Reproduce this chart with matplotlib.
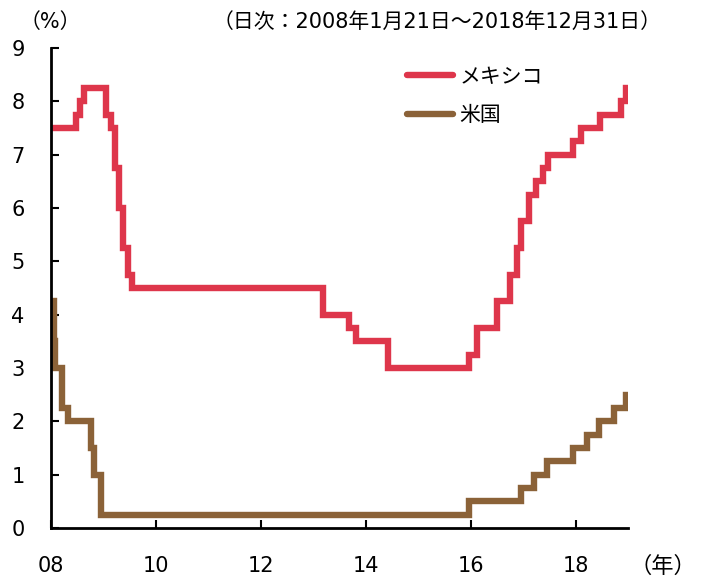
import matplotlib
matplotlib.use("Agg")
import matplotlib.pyplot as plt
import pandas as pd

plt.rcParams['font.family'] = ['DejaVu Sans', 'Noto Sans CJK JP']

# メキシコ政策金利
mx_dates = ["2008-01-21", "2008-06-20", "2008-07-18", "2008-08-15", "2009-01-16",
            "2009-02-20", "2009-03-20", "2009-04-17", "2009-05-15", "2009-06-19",
            "2009-07-17", "2013-03-08", "2013-09-06", "2013-10-25", "2014-06-06",
            "2015-12-17", "2016-02-17", "2016-06-30", "2016-09-29", "2016-11-17",
            "2016-12-15", "2017-02-09", "2017-03-30", "2017-05-18", "2017-06-22",
            "2017-12-14", "2018-02-08", "2018-06-21", "2018-11-15", "2018-12-20",
            "2018-12-31"]
mx_rates = [7.50, 7.75, 8.00, 8.25, 7.75,
            7.50, 6.75, 6.00, 5.25, 4.75,
            4.50, 4.00, 3.75, 3.50, 3.00,
            3.25, 3.75, 4.25, 4.75, 5.25,
            5.75, 6.25, 6.50, 6.75, 7.00,
            7.25, 7.50, 7.75, 8.00, 8.25,
            8.25]

# 米国 FF金利誘導目標（上限）
us_dates = ["2008-01-21", "2008-01-22", "2008-01-30", "2008-03-18", "2008-04-30",
            "2008-10-08", "2008-10-29", "2008-12-16", "2015-12-17", "2016-12-15",
            "2017-03-16", "2017-06-15", "2017-12-14", "2018-03-22", "2018-06-14",
            "2018-09-27", "2018-12-20", "2018-12-31"]
us_rates = [4.25, 3.50, 3.00, 2.25, 2.00,
            1.50, 1.00, 0.25, 0.50, 0.75,
            1.00, 1.25, 1.50, 1.75, 2.00,
            2.25, 2.50, 2.50]

year_ticks = [2008, 2010, 2012, 2014, 2016, 2018]
year_labels = ["08", "10", "12", "14", "16", "18"]

red = "#DE364B"
brown = "#8B6238"

fig = plt.figure(figsize=(7.02, 5.76), dpi=100)
ax = fig.add_axes([51/702, 48/576, 577/702, 480/576])

ax.step(pd.to_datetime(mx_dates), mx_rates, where="post", color=red, lw=4.6,
        solid_joinstyle="miter", label="メキシコ")
ax.step(pd.to_datetime(us_dates), us_rates, where="post", color=brown, lw=4.6,
        solid_joinstyle="miter", label="米国")

ax.set_xlim(pd.Timestamp("2008-01-01"), pd.Timestamp("2018-12-31"))
ax.set_ylim(0, 9)
ax.set_yticks(range(0, 10))
ax.set_xticks([pd.Timestamp(f"{y}-01-01") for y in year_ticks])
ax.set_xticklabels(year_labels)

for s in ["top", "right"]:
    ax.spines[s].set_visible(False)
for s in ["left", "bottom"]:
    ax.spines[s].set_linewidth(2)
ax.tick_params(direction="in", length=6, width=1.5, labelsize=15, colors="black")
ax.tick_params(axis="y", pad=19)
ax.tick_params(axis="x", pad=20)

leg = ax.legend(loc="upper left", bbox_to_anchor=(0.585, 1.0), frameon=False,
                fontsize=15, handlelength=2.2, handletextpad=0.3, labelspacing=0.9)
for h in leg.get_lines():
    h.set_solid_capstyle("round")

fig.text(50/702, 1 - 22/576, "（%）", fontsize=15, ha="center", va="center")
fig.text(662/702, 1 - 22/576, "（日次：2008年1月21日～2018年12月31日）",
         fontsize=15, ha="right", va="center")
fig.text(663/702, 1 - 566/576, "（年）", fontsize=16, ha="center", va="center")

fig.savefig("out.png", dpi=100)
